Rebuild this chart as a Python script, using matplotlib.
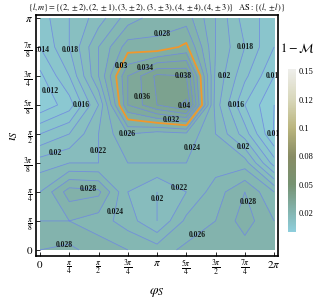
import numpy as np
import matplotlib
matplotlib.use('Agg')
import matplotlib.pyplot as plt
from matplotlib.colors import LinearSegmentedColormap, Normalize
from matplotlib.cm import ScalarMappable

plt.rcParams['mathtext.fontset'] = 'stix'
plt.rcParams['font.family'] = ['Liberation Serif', 'DejaVu Serif']

# grid: phi_S in steps of pi/4, iota_S in steps of pi/8
phi = np.arange(9) * np.pi / 4
iota = np.arange(9) * np.pi / 8
# 1 - M, rows iota = 0 ... pi, columns phi = 0 ... 2pi
mism = np.array([
    [0.028, 0.0285, 0.027, 0.026, 0.025, 0.0265, 0.027, 0.027, 0.028],
    [0.026, 0.026, 0.025, 0.023, 0.020, 0.0245, 0.026, 0.029, 0.026],
    [0.024, 0.029, 0.0285, 0.022, 0.020, 0.022, 0.025, 0.028, 0.024],
    [0.021, 0.022, 0.022, 0.024, 0.024, 0.024, 0.023, 0.023, 0.015],
    [0.016, 0.018, 0.022, 0.026, 0.025, 0.0255, 0.022, 0.017, 0.0098],
    [0.0105, 0.013, 0.020, 0.034, 0.038, 0.0405, 0.021, 0.014, 0.010],
    [0.0115, 0.016, 0.024, 0.034, 0.0385, 0.038, 0.0215, 0.0165, 0.012],
    [0.014, 0.018, 0.024, 0.029, 0.0286, 0.0305, 0.022, 0.018, 0.014],
    [0.015, 0.018, 0.021, 0.025, 0.027, 0.027, 0.022, 0.017, 0.015],
])

# where the contour labels sit (phi in pi/4, iota in pi/8)
label_u = [0.25, 1.1, 4.2, 3.6, 7.0, 7.85, 4.9, 6.2, 0.5, 3.7, 4.95, 1.4, 6.6,
           3.0, 4.5, 7.85, 0.45, 1.8, 5.7, 6.9, 1.64, 2.66, 3.9, 4.67, 7.27, 5.46, 0.85]
label_v = [7.0, 6.9, 7.4, 6.3, 7.0, 6.1, 6.0, 6.0, 5.55, 5.3, 5.0, 5.0, 5.0,
           4.0, 4.5, 4.0, 3.55, 3.4, 3.3, 3.5, 1.97, 1.3, 1.76, 1.97, 1.7, 0.4, 0.14]
orange_label = (2.56, 6.45)

cb_ticks = [0.025, 0.05, 0.075, 0.1, 0.125, 0.15]
cb_labels = ['0.02', '0.05', '0.08', '0.1', '0.12', '0.15']

vmin, vmax = 0.0083, 0.152
nodes = [(0.0083, (142, 206, 220)), (0.025, (132, 182, 178)), (0.05, (118, 146, 114)),
         (0.075, (136, 140, 100)), (0.1, (186, 181, 126)), (0.125, (216, 215, 186)),
         (0.152, (238, 238, 235))]
cmap = LinearSegmentedColormap.from_list(
    'mm', [((v - vmin) / (vmax - vmin), tuple(c / 255 for c in col)) for v, col in nodes])
norm = Normalize(vmin, vmax)

fig = plt.figure(figsize=(3.16, 3.0), dpi=100)
ax = fig.add_axes([0.114, 0.147, 0.766, 0.803])

P, I = np.meshgrid(phi, iota)
fill_levels = np.arange(0.008, 0.0421, 0.002)
ax.contourf(P, I, mism, levels=fill_levels, cmap=cmap, norm=norm)
line_levels = np.arange(0.01, 0.0401, 0.002)
cs = ax.contour(P, I, mism, levels=line_levels, colors='#6f88e4', linewidths=0.6, alpha=0.85)
oc = ax.contour(P, I, mism, levels=[0.03], colors='#f0982c', linewidths=1.3)

pos = [(u * np.pi / 4, v * np.pi / 8) for u, v in zip(label_u, label_v)]
lbls = ax.clabel(cs, manual=pos, inline=False, fmt='%g', fontsize=5.5, colors='black')
lbls += ax.clabel(oc, manual=[(orange_label[0] * np.pi / 4, orange_label[1] * np.pi / 8)],
                  inline=False, fmt='%g', fontsize=5.5, colors='black')
for t in lbls:
    t.set_fontweight('bold')
    t.set_rotation(0)

ax.set_xlim(-0.107, 2 * np.pi + 0.107)
ax.set_ylim(-0.081, np.pi + 0.041)

xt = np.arange(9) * np.pi / 4
xl = ['$0$', r'$\frac{\pi}{4}$', r'$\frac{\pi}{2}$', r'$\frac{3\pi}{4}$', r'$\pi$',
      r'$\frac{5\pi}{4}$', r'$\frac{3\pi}{2}$', r'$\frac{7\pi}{4}$', r'$2\pi$']
yt = np.arange(9) * np.pi / 8
yl = ['$0$', r'$\frac{\pi}{8}$', r'$\frac{\pi}{4}$', r'$\frac{3\pi}{8}$', r'$\frac{\pi}{2}$',
      r'$\frac{5\pi}{8}$', r'$\frac{3\pi}{4}$', r'$\frac{7\pi}{8}$', r'$\pi$']
ax.set_xticks(xt)
ax.set_xticklabels(xl, fontsize=8)
ax.set_yticks(yt)
ax.set_yticklabels(yl, fontsize=8)
ax.tick_params(direction='in', length=3, width=0.6, pad=2)
for s in ax.spines.values():
    s.set_linewidth(1.2)

ax.set_xlabel(r'$\varphi_S$', fontsize=10, labelpad=6)
ax.set_ylabel(r'$\iota_S$', fontsize=10, labelpad=2)
ax.set_title(r'$\{l,m\}=\{(2,\pm2),(2,\pm1),(3,\pm2),(3,\pm3),(4,\pm4),(4,\pm3)\}\quad \mathrm{AS}:\{(l,\pm l)\}$',
             fontsize=6, pad=3)

cax = fig.add_axes([0.911, 0.227, 0.025, 0.543])
cb = fig.colorbar(ScalarMappable(norm=norm, cmap=cmap), cax=cax)
cb.outline.set_visible(False)
cb.set_ticks(cb_ticks)
cb.set_ticklabels(cb_labels)
cb.ax.tick_params(length=0, labelsize=6, pad=2)
fig.text(0.94, 0.84, r'$1-\mathcal{M}$', fontsize=9, ha='center', va='center')

fig.savefig('out.png', dpi=100)
